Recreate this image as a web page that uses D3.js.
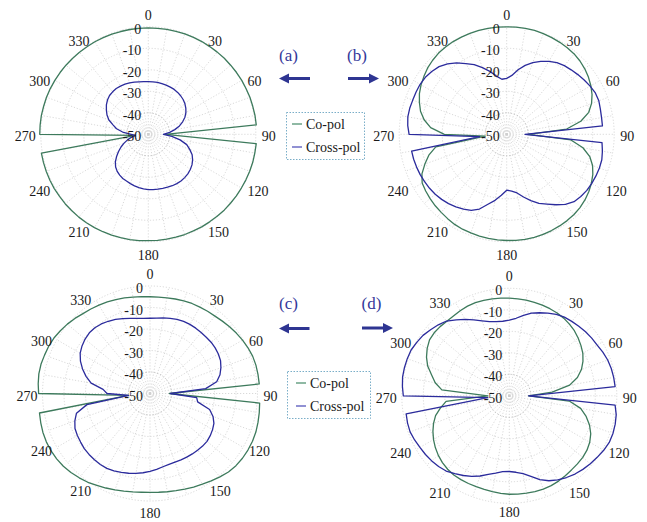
<!DOCTYPE html>
<html>
<head>
<meta charset="utf-8">
<script src="https://cdn.jsdelivr.net/npm/d3@7"></script>
<style>
  html, body { margin: 0; padding: 0; background: #fff; }
  svg { display: block; }
  text { font-family: "Liberation Serif", "Times New Roman", serif; }
</style>
</head>
<body>
<svg id="chart" width="647" height="522" font-family="Liberation Serif, Times New Roman, serif"></svg>
<script>
// Measurement angles (degrees, clockwise from 0 at top)
const angles = d3.range(0, 360, 5);

// Radial axis (dB)
const dbTicks = [-50, -40, -30, -20, -10, 0];
const angleTicks = [0, 30, 60, 90, 120, 150, 180, 210, 240, 270, 300, 330];

// (a) radiation pattern, dB
const coPolA = [
  -0.5, -0.5, -0.4, -0.4, -0.3, -0.3, -0.2, -0.2, -0.1, 0.0, 0.0, 0.1,
  0.2, 0.2, 0.3, 0.3, 0.4, 0.4, -42, 0.4, 0.3, 0.3, 0.2, 0.1,
  0.0, 0.0, -0.1, -0.1, -0.2, -0.3, -0.3, -0.4, -0.4, -0.5, -0.5, -0.5,
  -0.5, -0.4, -0.3, -0.2, -0.1, 0.0, 0.1, 0.2, 0.3, 0.3, 0.4, 0.4,
  0.5, 0.5, 0.5, 0.5, 0.5, -44, 0.5, 0.5, 0.5, 0.4, 0.4, 0.3,
  0.2, 0.1, 0.0, -0.1, -0.2, -0.3, -0.3, -0.4, -0.4, -0.5, -0.5, -0.5
];
const crossPolA = [
  -25.5, -25.5, -25.5, -25.6, -25.7, -25.8, -25.9, -26.2, -26.6, -27.1, -27.8, -28.7,
  -29.8, -31.2, -33.0, -35.0, -37.5, -40.0, -43.0, -39.0, -35.0, -31.5, -29.5, -27.5,
  -26.2, -25.2, -24.5, -24.0, -23.7, -23.5, -23.5, -23.6, -23.8, -24.0, -24.1, -24.2,
  -24.3, -24.5, -24.8, -25.2, -25.6, -26.0, -26.3, -26.8, -27.5, -28.5, -30.0, -32.0,
  -34.0, -36.0, -38.0, -40.0, -42.0, -44.0, -42.0, -38.0, -35.0, -33.0, -30.5, -28.8,
  -27.5, -26.2, -25.2, -24.5, -24.2, -24.0, -24.1, -24.3, -24.6, -24.9, -25.2, -25.4
];

// (b) radiation pattern, dB
const coPolB = [
  0.0, 0.0, 0.0, 0.0, -0.2, -0.4, -0.6, -0.9, -1.2, -1.8, -2.6, -3.6,
  -4.8, -6.2, -8.0, -10.5, -15.0, -22.0, -40.0, -20.0, -14.0, -10.0, -7.5, -5.8,
  -4.5, -3.4, -2.5, -1.8, -1.3, -1.0, -0.8, -0.6, -0.5, -0.4, -0.4, -0.5,
  -0.6, -0.7, -0.8, -1.0, -1.2, -1.3, -1.6, -2.1, -2.6, -3.0, -3.5, -4.0,
  -4.6, -6.5, -9.5, -12.5, -16.5, -40.0, -21.0, -14.5, -11.0, -8.5, -6.8, -5.2,
  -4.0, -3.0, -2.0, -1.3, -0.7, -0.4, -0.2, -0.1, 0.0, 0.0, 0.0, 0.0
];
const crossPolB = [
  -24.0, -22.5, -19.5, -16.8, -14.5, -12.6, -10.8, -9.3, -8.3, -7.6, -6.8, -6.0,
  -5.2, -4.5, -4.4, -4.9, -5.2, -5.3, -41.5, -5.5, -4.8, -4.2, -4.1, -4.2,
  -4.3, -4.5, -5.0, -5.7, -7.5, -10.0, -12.5, -14.5, -17.2, -19.8, -22.3, -23.5,
  -24.0, -21.5, -18.8, -16.3, -13.0, -11.0, -9.8, -8.8, -7.9, -7.2, -6.6, -6.2,
  -5.9, -5.6, -5.4, -5.2, -5.1, -37.4, -4.6, -3.8, -3.3, -3.3, -3.5, -3.5,
  -3.5, -3.8, -4.5, -5.5, -7.2, -9.4, -12.0, -14.2, -17.0, -19.7, -22.5, -24.3
];

// (c) radiation pattern, dB
const coPolC = [
  -5.0, -5.0, -4.8, -4.5, -4.1, -3.8, -3.6, -3.3, -3.0, -2.4, -1.7, -1.0,
  -0.3, 0.3, 0.8, 1.0, 1.0, 1.0, -41.0, 1.2, 1.6, 2.0, 2.4, 2.6,
  2.6, 2.5, 2.2, 1.6, 0.6, -0.4, -1.3, -2.0, -2.7, -3.2, -3.6, -3.9,
  -4.0, -3.9, -3.5, -3.0, -2.3, -1.5, -0.6, 0.4, 1.2, 2.0, 2.6, 3.0,
  3.2, 3.2, 3.0, 2.6, 2.2, -40.0, 1.8, 2.2, 2.5, 2.5, 2.2, 2.0,
  1.6, 0.9, 0.2, -0.6, -1.5, -2.0, -2.5, -3.0, -3.5, -4.0, -4.5, -4.8
];
const crossPolC = [
  -15.0, -14.8, -14.3, -13.8, -13.3, -13.0, -12.9, -12.9, -13.0, -13.0, -12.9, -13.0,
  -13.3, -13.8, -14.9, -16.3, -18.5, -24.0, -40.5, -28.2, -27.5, -21.3, -18.8, -17.2,
  -16.4, -15.8, -15.4, -15.4, -15.6, -15.7, -15.8, -15.9, -16.0, -15.9, -15.4, -14.6,
  -13.8, -13.0, -12.3, -11.6, -11.0, -10.3, -9.8, -9.7, -9.8, -9.9, -10.1, -10.6,
  -11.0, -11.5, -12.8, -14.6, -20.2, -40.0, -30.0, -28.1, -22.2, -19.2, -16.6, -14.3,
  -12.5, -11.4, -10.6, -10.1, -10.1, -10.5, -11.2, -12.0, -12.9, -13.8, -14.5, -14.9
];

// (d) radiation pattern, dB
const coPolD = [
  -4.6, -4.7, -4.8, -5.0, -5.1, -5.3, -5.5, -5.9, -6.5, -7.2, -8.2, -9.3,
  -10.5, -12.2, -14.3, -17.2, -21.5, -30.0, -41.0, -22.0, -16.3, -13.0, -10.3, -8.2,
  -6.8, -5.9, -5.4, -5.2, -5.0, -4.6, -4.2, -3.9, -3.8, -3.9, -4.0, -4.1,
  -4.2, -4.4, -4.7, -4.9, -5.0, -5.0, -5.0, -5.0, -5.4, -6.0, -6.9, -8.0,
  -9.3, -10.8, -12.5, -14.5, -17.5, -20.5, -40.0, -18.5, -15.0, -12.6, -9.6, -7.5,
  -5.9, -4.7, -4.4, -4.5, -4.8, -4.7, -4.3, -4.0, -3.9, -4.0, -4.2, -4.4
];
const crossPolD = [
  -14.8, -13.8, -12.0, -10.2, -8.9, -7.6, -6.3, -5.3, -4.8, -4.3, -3.7, -3.2,
  -2.8, -2.0, -1.3, -0.9, -0.7, -0.6, -41.0, -0.6, 0.5, 1.0, 1.3, 1.3,
  0.7, -0.1, -0.8, -1.6, -2.5, -3.6, -4.9, -6.4, -8.5, -11.2, -13.2, -14.3,
  -14.8, -14.6, -13.5, -12.2, -10.3, -8.6, -7.2, -5.8, -4.3, -3.5, -2.9, -2.4,
  -2.0, -1.4, -0.9, -1.0, -1.3, -40.0, -0.7, -0.1, 0.4, 0.5, 0.5, 0.4,
  -0.3, -1.0, -2.2, -3.3, -4.6, -6.9, -9.0, -11.0, -12.9, -14.3, -15.0, -15.2
];

const seriesNames = ["Co-pol", "Cross-pol"];
const panelLabels = ["(a)", "(b)", "(c)", "(d)"];

const colors = { co: "#3d7a5c", cross: "#2b2b9c" };
const accent = "#2e3592";

const width = 647, height = 522;

const panels = [
  { cx: 148.3, cy: 134.3, co: coPolA, cross: crossPolA },
  { cx: 506.7, cy: 134.3, co: coPolB, cross: crossPolB },
  { cx: 150.0, cy: 393.5, co: coPolC, cross: crossPolC },
  { cx: 509.3, cy: 395.8, co: coPolD, cross: crossPolD }
];

const R = 107.5;
const rScale = d3.scaleLinear().domain([-50, 0]).range([0, R]);
const toRad = d => d * Math.PI / 180;

const svg = d3.select("#chart");

const radialLine = d3.lineRadial()
  .angle(d => toRad(d.a))
  .radius(d => rScale(d.v))
  .curve(d3.curveLinearClosed);

panels.forEach(p => {
  const g = svg.append("g").attr("transform", `translate(${p.cx},${p.cy})`);

  // spokes every 10 degrees
  g.append("g").selectAll("line")
    .data(d3.range(0, 360, 10))
    .join("line")
    .attr("x1", 0).attr("y1", 0)
    .attr("x2", d => R * Math.sin(toRad(d)))
    .attr("y2", d => -R * Math.cos(toRad(d)))
    .attr("stroke", "#cfcfcf")
    .attr("stroke-width", 0.8)
    .attr("stroke-dasharray", "1.2,1.8");

  // dB rings
  g.append("g").selectAll("circle")
    .data(dbTicks.filter(d => d > -50))
    .join("circle")
    .attr("r", d => rScale(d))
    .attr("fill", "none")
    .attr("stroke", d => d === -40 ? "#b4b4b4" : "#d2d2d2")
    .attr("stroke-width", 0.9)
    .attr("stroke-dasharray", "1.2,1.8");

  // pattern traces
  const toPts = vals => angles.map((a, i) => ({ a, v: vals[i] }));
  g.append("path").datum(toPts(p.co))
    .attr("d", radialLine)
    .attr("fill", "none").attr("stroke", colors.co).attr("stroke-width", 1.3)
    .attr("stroke-linejoin", "round");
  g.append("path").datum(toPts(p.cross))
    .attr("d", radialLine)
    .attr("fill", "none").attr("stroke", colors.cross).attr("stroke-width", 1.3)
    .attr("stroke-linejoin", "round");

  // dB tick labels along the 0° spoke
  g.append("g").selectAll("text")
    .data(dbTicks)
    .join("text")
    .attr("x", -7)
    .attr("y", d => -rScale(d) + 7)
    .attr("text-anchor", "end")
    .attr("font-size", 14)
    .attr("fill", "#1a1a1a")
    .text(d => d);

  // angle labels
  g.append("g").selectAll("text")
    .data(angleTicks)
    .join("text")
    .attr("font-size", 14)
    .attr("fill", "#1a1a1a")
    .each(function (d) {
      const t = toRad(d);
      const px = R * Math.sin(t), py = -R * Math.cos(t);
      const el = d3.select(this);
      if (d === 0) {
        el.attr("x", 0).attr("y", -R - 7).attr("text-anchor", "middle");
      } else if (d === 180) {
        // keep the bottom label inside the canvas
        const yb = Math.min(R + 18, height - p.cy - 4.5);
        el.attr("x", 0).attr("y", yb).attr("text-anchor", "middle");
      } else if (d < 180) {
        el.attr("x", px + 6).attr("y", py + 7 - 2.5 * Math.cos(t)).attr("text-anchor", "start");
      } else {
        el.attr("x", px - 5).attr("y", py + 7 - 2.5 * Math.cos(t)).attr("text-anchor", "end");
      }
    })
    .text(d => d);
});

// panel tags and arrows
const tags = [
  { label: panelLabels[0], x: 288.5, y: 61, ax1: 310, ax2: 279, ay: 78.5 },
  { label: panelLabels[1], x: 357, y: 61, ax1: 348, ax2: 379, ay: 78.5 },
  { label: panelLabels[2], x: 288.5, y: 309, ax1: 309.5, ax2: 279, ay: 328.5 },
  { label: panelLabels[3], x: 371.5, y: 309, ax1: 362, ax2: 393, ay: 328 }
];

tags.forEach(t => {
  svg.append("text")
    .attr("x", t.x).attr("y", t.y)
    .attr("text-anchor", "middle")
    .attr("font-size", 17)
    .attr("fill", "#34389a")
    .text(t.label);
  const dir = Math.sign(t.ax2 - t.ax1);
  const head = 10;
  svg.append("line")
    .attr("x1", t.ax1).attr("y1", t.ay)
    .attr("x2", t.ax2 - dir * head + dir).attr("y2", t.ay)
    .attr("stroke", accent).attr("stroke-width", 3);
  svg.append("path")
    .attr("d", `M${t.ax2},${t.ay} L${t.ax2 - dir * head},${t.ay - 5} L${t.ax2 - dir * head},${t.ay + 5} Z`)
    .attr("fill", accent);
});

// legends
const legends = [
  { x: 286, y: 112, w: 78, h: 47, lx: 292, tx: 306 },
  { x: 287, y: 371, w: 83, h: 47, lx: 296, tx: 310 }
];
legends.forEach(L => {
  const g = svg.append("g");
  g.append("rect")
    .attr("x", L.x + 0.5).attr("y", L.y + 0.5)
    .attr("width", L.w).attr("height", L.h)
    .attr("fill", "#fff")
    .attr("stroke", "#7aaec8")
    .attr("stroke-width", 1)
    .attr("stroke-dasharray", "1.5,1.5");
  seriesNames.forEach((name, i) => {
    const yy = L.y + 12 + i * 23;
    g.append("line")
      .attr("x1", L.lx).attr("x2", L.lx + 10)
      .attr("y1", yy).attr("y2", yy)
      .attr("stroke", i === 0 ? "#6aa286" : "#6c6cc4")
      .attr("stroke-width", 1.5);
    g.append("text")
      .attr("x", L.tx).attr("y", yy + 5)
      .attr("font-size", 14)
      .attr("fill", "#1a1a1a")
      .text(name);
  });
});
</script>
</body>
</html>
